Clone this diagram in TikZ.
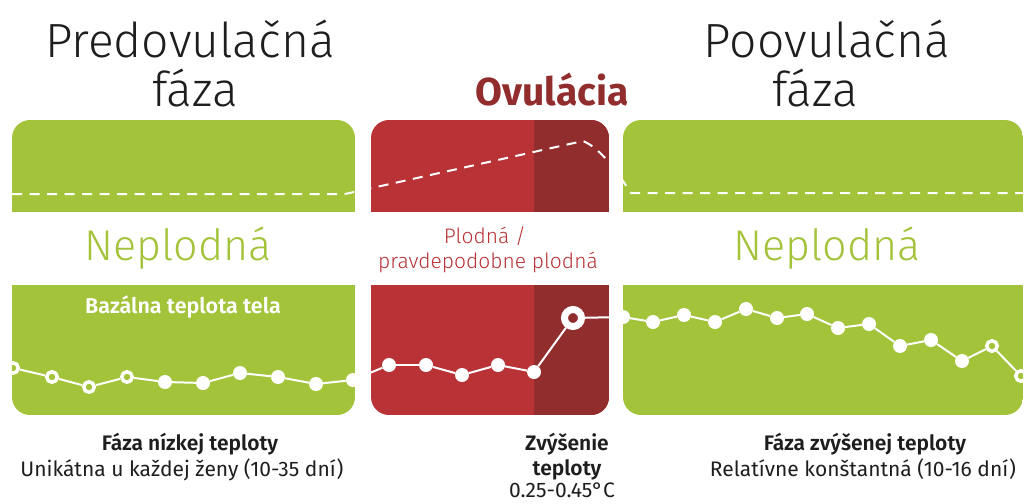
\documentclass[tikz,border=0pt]{standalone}
\usepackage{fontspec}
\setmainfont{Fira Sans}
\newfontfamily\lightfont{Fira Sans Light}
\newfontfamily\semifont{Fira Sans SemiBold}
\usetikzlibrary{positioning}
\definecolor{fazagreen}{HTML}{A3C43A}
\definecolor{ovured}{HTML}{B93236}
\definecolor{ovudark}{HTML}{922D2E}
\definecolor{titlegray}{HTML}{1E1E1E}
\tikzstyle{dot}=[circle,fill=white,inner sep=0pt,minimum size=14pt]
\tikzstyle{ring}=[circle,draw=white,line width=3.5pt,fill=fazagreen,
  			  inner sep=0pt,minimum size=10.5pt]
\tikzstyle{bigring}=[circle,draw=white,line width=7pt,fill=ovudark,
  			  inner sep=0pt,minimum size=17pt]
\tikzstyle{templine}=[white,line width=2pt]
\tikzstyle{dashline}=[white,line width=2pt,dash pattern=on 10pt off 7.5pt]
\tikzstyle{phase}=[anchor=base,inner sep=0pt,text=titlegray,
  			  font=\lightfont\fontsize{48}{56}\selectfont]
\tikzstyle{zone}=[anchor=base,inner sep=0pt,text=fazagreen,
  			  font=\lightfont\fontsize{43}{50}\selectfont]
\tikzstyle{fertile}=[anchor=base,inner sep=0pt,text=ovured,
  			  font=\lightfont\fontsize{21}{25}\selectfont]
\tikzstyle{caption}=[anchor=base,inner sep=0pt,text=titlegray,
  			  font=\fontsize{21}{24}\selectfont]
\tikzstyle{capbold}=[caption,font=\semifont\fontsize{21}{24}\selectfont]

\begin{document}
\begin{tikzpicture}[x=1pt,y=-1pt]
	\useasboundingbox (0,0) rectangle (1024,503);

	% titles
	\node[phase] (pretitle) at (190,57) {Predovulačná};
	\node[phase] (prefaza) at (195,106) {fáza};
	\node[phase] (posttitle) at (827,57) {Poovulačná};
	\node[phase] (postfaza) at (815,106) {fáza};
	\node[anchor=base,inner sep=0pt,text=ovudark,
	      font=\bfseries\fontsize{39}{44}\selectfont] (ovutitle) at (552,105) {Ovulácia};

	% panels, clipped together
	\begin{scope}
		\clip[rounded corners=18pt] (12,120) rectangle (355,415)
			(371,120) rectangle (609,415) (623,120) rectangle (1023,415);
		\fill[fazagreen] (12,120) rectangle (355,415);
		\fill[ovured] (371,120) rectangle (609,415);
		\fill[ovudark] (534,120) rectangle (609,415);
		\fill[fazagreen] (623,120) rectangle (1023,415);
		\fill[white] (0,212) rectangle (1024,285);

		% cervix line
		\coordinate (d0) at (12,194);
		\coordinate (d1) at (345,194);
		\coordinate (d2) at (583,141);
		\coordinate (d3) at (631,193);
		\coordinate (d4) at (1024,193);
		\draw[dashline] (d0) -- (d1) -- (d2)
			.. controls (600,148) and (616,170) .. (d3) -- (d4);

		% temperature curve
		\foreach \i/\x/\y/\s in {1/13/368/ring,2/52/377/ring,3/89/387/ring,
				4/127/377/ring,5/165/382/dot,6/203/383/dot,7/240/373/dot,
				8/278/377/dot,9/316/384/dot,10/353/380/dot,
				11/389/365/dot,12/426/365/dot,13/462/375/dot,14/498/365/dot,
				15/534/372/dot,16/573/318/bigring,
				17/623/317/dot,18/653/322/dot,19/684/315/dot,20/715/322/dot,
				21/746/309/dot,22/777/318/dot,23/807/314/dot,24/838/328/dot,
				25/869/324/dot,26/900/346/dot,27/931/340/dot,28/962/361/dot,
				29/992/346/ring,30/1021/376/ring}
			\node[\s] (p\i) at (\x,\y) {};
		\foreach \i [remember=\i as \j (initially 1)] in {2,...,30}
			\draw[templine] (p\j) -- (p\i);
	\end{scope}

	% band labels
	\node[zone] (leftzone) at (178,260) {Neplodná};
	\node[zone] (rightzone) at (827,260) {Neplodná};
	\node[fertile] (fertile) at (485,243) {Plodná /};
	\node[fertile] (fertile2) at (488,268) {pravdepodobne plodná};
	\node[anchor=base,inner sep=0pt,text=white,
	      font=\semifont\fontsize{21.5}{24}\selectfont] (bbt) at (183,313) {Bazálna teplota tela};

	% captions
	\node[capbold] (lowhead) at (190,450) {Fáza nízkej teploty};
	\node[caption] (lowtext) at (182,476) {Unikátna u každej ženy (10-35 dní)};
	\node[capbold] (risehead) at (567,450) {Zvýšenie};
	\node[capbold] (risehead2) at (567,475) {teploty};
	\node[caption] (risetext) at (562,497) {0.25-0.45°C};
	\node[capbold] (highhead) at (865,450) {Fáza zvýšenej teploty};
	\node[caption] (hightext) at (863,476) {Relatívne konštantná (10-16 dní)};
\end{tikzpicture}
\end{document}
